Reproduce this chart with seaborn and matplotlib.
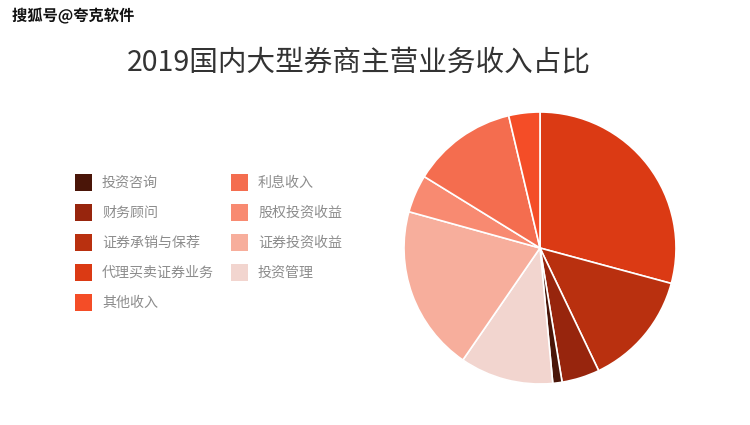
import matplotlib
matplotlib.use("Agg")
import matplotlib.pyplot as plt
import matplotlib.patheffects as pe
from matplotlib.patches import Rectangle
import seaborn as sns

# Data (pie order, clockwise from 12 o'clock)
pie_labels = ["代理买卖证券业务", "证券承销与保荐", "财务顾问", "投资咨询", "投资管理",
              "证券投资收益", "股权投资收益", "利息收入", "其他收入"]
pie_values = [29.2, 13.7, 4.5, 1.1, 11.1, 19.7, 4.5, 12.5, 3.7]
pie_colors = ["#db3a14", "#b9300f", "#97250d", "#4a1508", "#f2d5cf",
              "#f7ae9c", "#f88a71", "#f46d4f", "#f44d27"]

# Legend order (two columns)
legend_col1 = ["投资咨询", "财务顾问", "证券承销与保荐", "代理买卖证券业务", "其他收入"]
legend_col2 = ["利息收入", "股权投资收益", "证券投资收益", "投资管理"]

title = "2019国内大型券商主营业务收入占比"
watermark = "搜狐号@夸克软件"

sns.set_theme(style="white")
plt.rcParams['font.family'] = ['Noto Sans CJK SC', 'DejaVu Sans']

W, H = 750, 425
fig = plt.figure(figsize=(W / 100, H / 100), dpi=100)
fig.patch.set_facecolor("white")

palette = dict(zip(pie_labels, sns.color_palette(pie_colors)))

# Pie axes: centre (540, 248) px, radius 136 px
cx, cy, r = 540, 248, 136
ax = fig.add_axes([(cx - r) / W, (H - cy - r) / H, 2 * r / W, 2 * r / H])
ax.pie(pie_values, colors=[palette[l] for l in pie_labels], startangle=90,
       counterclock=False, radius=1,
       wedgeprops=dict(edgecolor="white", linewidth=1.2))
ax.set_xlim(-1.0, 1.0)
ax.set_ylim(-1.0, 1.0)
ax.set_aspect("equal")
ax.axis("off")

# Title
fig.text(359 / W, 1 - 62 / H, title, ha="center", va="center",
         fontsize=20.6, color="#333333")

# Watermark
fig.text(12 / W, 1 - 16 / H, watermark, ha="left", va="center",
         fontsize=11, fontweight="bold", color="#111111",
         path_effects=[pe.withStroke(linewidth=2, foreground="white")])

# Legend (manual, two columns)
def draw_legend(items, sq_x, txt_x):
    for i, lab in enumerate(items):
        yc = 182.5 + 30 * i
        fig.add_artist(Rectangle((sq_x / W, 1 - (yc + 8.5) / H), 17 / W, 17 / H,
                                 transform=fig.transFigure,
                                 facecolor=palette[lab], edgecolor="none"))
        fig.text(txt_x / W, 1 - yc / H, lab, ha="left", va="center",
                 fontsize=10.1, color="#8c8c8c")

draw_legend(legend_col1, 75, 102)
draw_legend(legend_col2, 231, 258)

fig.savefig("out.png", dpi=100, facecolor="white")
